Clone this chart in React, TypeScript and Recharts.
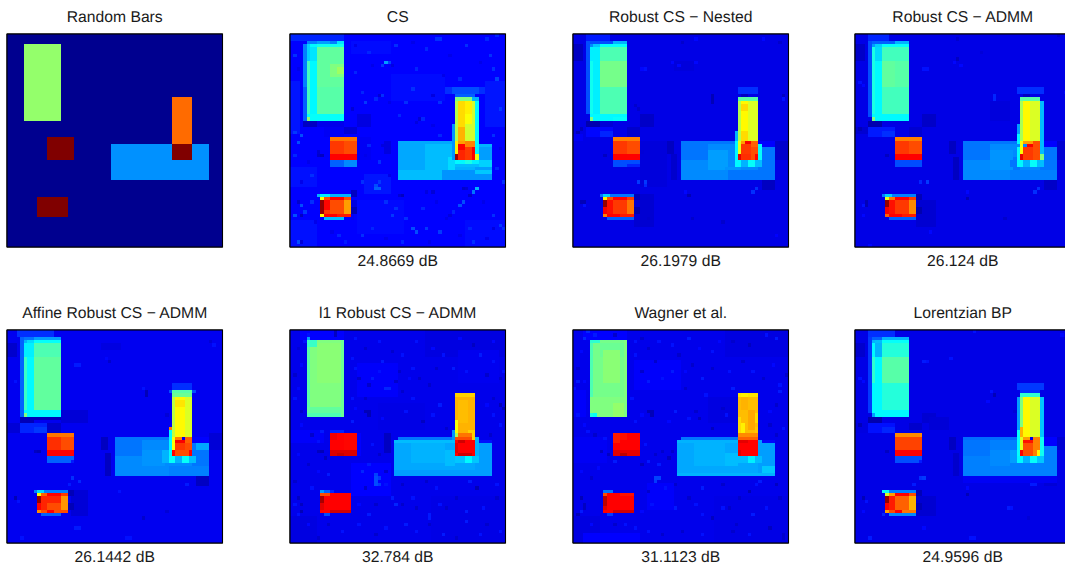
import React from "react";
import { ScatterChart, Scatter, XAxis, YAxis } from "recharts";

type B = number[]; // x0,y0,x1,y1,value on the 64x64 image grid
type S = number[]; // col,row,value

const titles = ["Random Bars", "CS", "Robust CS − Nested", "Robust CS − ADMM", "Affine Robust CS − ADMM", "l1 Robust CS − ADMM", "Wagner et al.", "Lorentzian BP"];
const snr = ["", "24.8669 dB", "26.1979 dB", "26.124 dB", "26.1442 dB", "32.784 dB", "31.1123 dB", "24.9596 dB"];

const truthBlocks: B[] = [
  [0,0,64,64,0],[5,3,16,26,0.52],[31,33,60,44,0.267],[49,19,55,33,0.77],[12,31,20,38,1],[9,49,18,55,1],[49,33,55,38,1],
];
const truthSpecks: S[] = [];

const csBlocks: B[] = [
  [0,0,64,64,0.125],[0,0,16,2,0.16],[0,14,3,30,0.145],[32,4,42,8,0.11],[0,40,8,46,0.14],[0,56,8,64,0.14],[22,42,30,48,0.145],[58,14,64,28,0.145],[46,16,58,18,0.17],[18,2,30,6,0.135],[30,12,46,20,0.135],[20,50,34,60,0.133],[36,52,50,64,0.118],[52,56,64,64,0.135],[16,22,30,30,0.118],
  [4,3,5,16,0.25],[4,16,5,26,0.22],[5,2,16,3,0.25],[8,2,12,3,0.28],[14,2,16,3,0.35],
  [5,3,8,26,0.37],[6,4,8,8,0.35],[5,8,6,26,0.44],[5,3,6,8,0.33],[8,3,16,4,0.39],[8,4,16,26,0.47],[12,9,16,13,0.5],[14,10,16,12,0.53],[8,16,16,24,0.46],[5,24,16,26,0.38],[5,25,6,26,0.52],
  [4,26,8,28,0.05],[8,26,16,28,0.09],[10,28,16,31,0.1],[20,24,24,28,0.08],[16,28,20,30,0.07],
  [12,31,20,32,0.76],[12,32,20,36,0.82],[16,32,20,36,0.8],[12,36,20,38,0.875],[12,38,20,40,0.22],[16,38,20,40,0.26],[8,36,10,37,0.06],[20,31,24,38,0.1],[28,32,30,36,0.08],
  [32,32,49,33,0.29],[32,33,60,44,0.3],[32,33,40,41,0.29],[40,33,48,41,0.31],[47,37,49,41,0.34],[32,41,45,44,0.31],[45,41,60,44,0.27],[55,34,60,41,0.28],[55,41,60,42,0.32],
  [48,16,56,18,0.2],[49,18,55,19,0.22],[49,19,55,20,0.5],[54,19,56,20,0.3],[49,20,50,32,0.55],[50,20,52,32,0.66],[52,20,54,32,0.62],[54,20,55,32,0.58],[55,20,56,38,0.37],[52,20,54,24,0.64],[50,28,52,32,0.7],[52,27,54,32,0.58],[48,27,49,38,0.27],
  [49,32,50,37,0.64],[50,32,52,33,0.72],[50,33,52,35,0.875],[52,32,55,34,0.75],[50,35,52,38,0.84],[52,34,54,38,0.82],[54,34,55,36,0.88],[54,36,55,38,0.875],[49,36,50,38,0.97],[55,36,56,38,0.6],
  [49,38,52,39,0.37],[52,38,54,39,0.4],[54,38,56,39,0.36],[49,39,56,40,0.31],[56,38,60,40,0.33],
  [8,48,18,49,0.3],[9,48,12,49,0.36],[18,47,20,49,0.05],[9,49,18,55,0.82],[9,49,10,50,0.62],[10,49,18,50,0.8],[12,49,16,50,0.875],[9,50,10,54,0.98],[10,50,12,53,0.87],[12,50,16,54,0.8],[16,50,18,54,0.72],[9,54,10,55,0.62],[10,54,14,55,0.875],[14,54,18,55,0.85],[10,55,16,56,0.31],[18,52,20,54,0.04],[18,50,20,52,0.08],[18,54,19,56,0.1],
];
const csSpecks: S[] = [
  [28,8,0.28],[29,8,0.19],[27,9,0.18],[30,9,0.08],[21,17,0.16],[26,18,0.07],[27,18,0.17],[25,19,0.16],[29,20,0.09],[18,22,0.07],[22,20,0.18],[38,25,0.07],[37,26,0.08],[39,25,0.16],[3,30,0.2],[1,29,0.18],[2,32,0.2],[8,35,0.07],[9,36,0.05],[23,33,0.16],[27,33,0.08],[55,46,0.3],[54,47,0.24],[53,48,0.06],[51,46,0.06],[52,46,0.07],[33,48,0.05],[32,48,0.07],[51,50,0.2],[50,51,0.2],[2,50,0.06],[3,51,0.2],[3,54,0.05],[4,53,0.18],[1,54,0.2],[25,46,0.22],[26,46,0.22],[25,45,0.2],[26,44,0.18],[36,58,0.2],[37,59,0.2],[40,58,0.18],[44,59,0.18],[60,58,0.08],[62,57,0.18],[63,58,0.17],[31,52,0.17],[30,54,0.18],[34,55,0.17],[40,47,0.08],[42,47,0.07],[60,10,0.17],[61,13,0.19],[62,22,0.18],[34,20,0.17],[36,16,0.17],[42,18,0.08],[44,20,0.17],[21,60,0.17],[14,60,0.16],[16,62,0.15],[43,1,0.17],[44,1,0.17],[58,1,0.16],[61,0,0.16],[3,62,0.07],[2,62,0.2],[24,58,0.16],[50,60,0.09],[46,55,0.09],[47,54,0.08],[53,58,0.16],
  [19,3,0.09],[23,5,0.16],[31,3,0.17],[36,2,0.09],[40,4,0.16],[47,6,0.09],[52,3,0.17],[56,8,0.09],[19,11,0.16],[24,9,0.09],[37,10,0.16],[45,12,0.09],[50,13,0.16],[59,6,0.17],[1,6,0.17],[2,10,0.09],[32,24,0.16],[42,27,0.09],[44,30,0.16],[60,30,0.17],[62,34,0.09],[61,40,0.16],[63,44,0.17],[1,36,0.16],[5,38,0.09],[6,42,0.17],[3,44,0.09],[22,36,0.09],[26,38,0.17],[29,42,0.09],[21,44,0.17],[6,50,0.17],[7,56,0.09],[12,59,0.09],[28,50,0.17],[39,52,0.16],[43,50,0.09],[48,53,0.16],[57,50,0.09],[60,54,0.17],[28,61,0.09],[33,62,0.16],[41,62,0.09],[54,62,0.17],[58,61,0.09],
];

const nestedBlocks: B[] = [
  [0,0,64,64,0.085],[4,0,11,2,0.15],[0,3,3,8,0.05],[20,24,24,28,0.055],[16,28,20,31,0.06],[20,32,28,46,0.075],[18,48,24,58,0.065],[56,44,60,47,0.05],[60,32,64,38,0.06],[28,32,30,36,0.05],[29,36,31,44,0.06],[0,30,3,32,0.1],[30,8,36,11,0.075],
  [4,2,5,24,0.2],[5,2,12,3,0.2],[12,2,16,3,0.3],[5,3,6,5,0.26],[6,3,8,4,0.32],[8,3,16,4,0.38],
  [5,4,8,24,0.36],[5,8,6,24,0.39],[8,4,16,8,0.45],[8,8,16,16,0.49],[8,16,16,24,0.45],[5,24,16,26,0.37],[5,25,6,26,0.5],[12,25,16,26,0.38],
  [4,26,8,28,0.03],[8,26,12,28,0.07],[4,28,12,31,0.13],[8,29,12,31,0.16],
  [12,31,20,32,0.75],[12,32,20,36,0.82],[16,32,20,36,0.8],[12,36,20,38,0.875],[12,38,20,40,0.2],[16,39,20,40,0.16],
  [32,32,48,33,0.24],[32,33,60,44,0.26],[32,33,40,38,0.24],[40,35,46,41,0.28],[46,36,48,40,0.26],[55,34,60,41,0.24],[46,41,60,44,0.24],[55,32,60,34,0.12],
  [49,16,55,18,0.17],[50,18,52,19,0.05],[49,19,55,20,0.46],[49,20,50,32,0.55],[50,20,52,32,0.63],[52,20,55,32,0.59],[50,21,52,23,0.66],[50,29,52,32,0.66],[48,29,49,32,0.3],[48,32,49,38,0.37],
  [49,32,50,36,0.6],[50,32,51,33,0.72],[51,32,53,33,0.88],[53,32,55,34,0.78],[50,33,53,36,0.82],[50,36,53,38,0.83],[53,34,55,38,0.8],[49,36,50,38,0.9],[54,36,55,38,0.875],[55,33,56,38,0.38],
  [48,38,50,40,0.37],[50,38,52,40,0.3],[52,38,54,40,0.38],[54,38,56,40,0.31],[45,40,50,41,0.27],
  [8,48,18,49,0.24],[9,48,11,49,0.33],[18,48,20,50,0.04],[9,49,18,55,0.82],[9,49,10,50,0.64],[10,49,12,50,0.8],[12,49,16,50,0.875],[9,50,10,52,0.98],[9,52,10,54,0.88],[10,50,12,54,0.86],[12,50,16,54,0.82],[16,50,18,54,0.76],[9,54,10,55,0.75],[10,54,14,55,0.875],[14,54,18,55,0.85],[10,55,18,56,0.22],[18,52,20,54,0.03],
];
const nestedSpecks: S[] = [
  [29,8,0.13],[20,10,0.13],[21,10,0.14],[31,9,0.13],[19,22,0.06],[18,21,0.06],[41,18,0.04],[41,19,0.04],[41,20,0.04],[62,18,0.05],[62,19,0.14],[2,28,0.05],[1,29,0.04],[20,35,0.07],[9,36,0.05],[3,50,0.04],[2,50,0.04],[3,51,0.14],[21,44,0.18],[21,45,0.16],[19,44,0.18],[33,47,0.13],[34,48,0.04],[54,46,0.17],[53,47,0.17],[36,8,0.13],[61,2,0.06],[56,1,0.13],[32,2,0.06],[36,1,0.13],[60,60,0.12],[44,56,0.06],[22,55,0.06],[35,55,0.06],
];

const admmBlocks: B[] = [
  [0,0,64,64,0.085],[4,0,10,2,0.16],[0,3,3,8,0.055],[20,24,24,28,0.055],[16,28,20,31,0.065],[18,50,24,58,0.065],[56,44,60,47,0.055],[60,32,64,38,0.065],[0,28,4,30,0.065],[40,20,46,26,0.075],[28,32,30,36,0.05],[29,37,31,44,0.05],
  [4,2,5,25,0.2],[5,2,12,3,0.22],[12,2,16,3,0.3],[5,3,6,6,0.28],[6,3,8,4,0.33],[8,3,16,4,0.38],
  [5,4,6,26,0.4],[6,4,8,8,0.34],[6,8,8,25,0.37],[8,4,16,8,0.44],[8,8,12,16,0.47],[12,8,16,16,0.46],[8,16,16,24,0.44],[5,24,16,26,0.37],[5,25,6,26,0.5],
  [4,26,8,28,0.03],[8,26,16,27,0.08],[4,28,12,31,0.15],[8,29,12,31,0.17],
  [12,31,20,32,0.75],[12,32,20,36,0.82],[16,32,20,36,0.8],[12,36,20,38,0.875],[12,38,20,40,0.2],
  [32,32,48,33,0.24],[32,33,60,44,0.26],[32,33,40,38,0.24],[40,35,47,41,0.27],[47,37,49,41,0.24],[55,34,60,41,0.24],[46,41,60,44,0.25],[55,32,60,34,0.12],
  [48,16,56,18,0.17],[50,18,52,19,0.05],[49,19,55,20,0.46],[49,20,50,32,0.54],[50,20,52,32,0.63],[52,20,55,32,0.59],[55,20,56,38,0.31],[48,27,49,30,0.28],[48,30,49,33,0.37],
  [49,32,50,38,0.62],[50,32,53,33,0.72],[51,33,53,34,0.88],[50,34,53,38,0.82],[53,32,55,38,0.8],[49,36,50,38,0.9],[55,36,56,38,0.5],[48,34,49,38,0.38],
  [48,38,50,40,0.37],[50,38,52,40,0.3],[52,38,54,40,0.38],[54,38,56,40,0.31],[46,38,48,40,0.24],
  [8,48,18,49,0.25],[9,48,11,49,0.33],[18,48,20,50,0.04],[9,49,18,55,0.82],[9,49,10,50,0.6],[10,49,12,50,0.76],[12,49,16,50,0.875],[9,50,10,52,0.98],[9,52,10,54,0.88],[10,50,12,54,0.86],[12,50,16,54,0.82],[16,50,18,54,0.74],[9,54,10,55,0.78],[10,54,14,55,0.875],[14,54,18,55,0.85],[10,55,18,56,0.22],[18,52,20,54,0.03],
];
const admmSpecks: S[] = [
  [29,8,0.13],[20,10,0.14],[21,10,0.14],[31,9,0.13],[30,7,0.05],[41,18,0.16],[41,19,0.16],[62,17,0.13],[1,14,0.14],[2,15,0.13],[1,28,0.04],[9,36,0.05],[3,50,0.04],[2,51,0.14],[3,51,0.04],[2,54,0.13],[19,44,0.16],[21,44,0.18],[33,47,0.13],[33,49,0.04],[54,46,0.17],[53,47,0.17],[30,1,0.06],[60,0,0.06],[4,63,0.13],[22,59,0.13],[37,5,0.07],[44,55,0.06],
];

const affineBlocks: B[] = [
  [0,0,64,64,0.095],[3,0,14,2,0.17],[0,4,3,8,0.06],[16,24,24,28,0.07],[0,28,4,31,0.07],[19,48,24,56,0.07],[56,44,60,47,0.05],[60,31,64,36,0.07],[28,32,30,36,0.05],[29,37,31,44,0.05],[28,4,34,6,0.08],
  [4,2,5,26,0.22],[5,2,8,3,0.24],[8,2,16,3,0.28],[5,3,6,8,0.3],[6,3,8,4,0.34],[8,3,16,4,0.38],
  [5,4,8,8,0.36],[6,8,8,24,0.37],[5,8,6,26,0.43],[8,4,16,8,0.45],[8,8,16,24,0.47],[5,24,16,26,0.37],[5,25,6,26,0.5],
  [4,26,16,27,0.04],[4,27,8,28,0.04],[4,28,12,31,0.16],[8,29,12,31,0.18],[12,28,16,31,0.06],
  [12,31,20,32,0.76],[12,32,20,36,0.83],[16,32,20,36,0.8],[12,36,20,38,0.875],[12,38,20,40,0.22],[19,39,20,40,0.15],
  [32,32,48,33,0.24],[32,33,60,44,0.26],[32,33,40,38,0.24],[40,36,47,41,0.27],[46,36,49,40,0.3],[55,34,60,41,0.24],[56,34,60,36,0.29],[48,41,60,44,0.25],[55,32,60,34,0.12],
  [49,16,55,18,0.17],[48,18,56,19,0.2],[49,18,55,19,0.46],[49,19,55,20,0.48],[49,20,50,32,0.56],[50,20,53,32,0.63],[53,20,55,32,0.59],[50,21,53,23,0.65],[48,29,49,30,0.75],[48,28,49,29,0.1],[48,30,49,38,0.37],
  [49,32,50,37,0.62],[50,32,52,33,0.75],[50,33,53,34,0.88],[53,32,55,34,0.78],[50,34,53,36,0.82],[50,36,53,38,0.8],[53,34,55,38,0.8],[49,36,50,38,0.875],[54,36,55,38,0.875],
  [48,38,50,40,0.38],[50,38,52,40,0.3],[52,38,54,40,0.38],[54,38,56,40,0.31],
  [8,48,18,49,0.25],[9,48,11,49,0.34],[18,48,20,50,0.04],[9,49,18,55,0.82],[9,49,10,50,0.62],[10,49,12,50,0.78],[12,49,16,50,0.875],[9,50,10,52,0.98],[9,52,10,54,0.875],[10,50,16,54,0.84],[12,52,16,54,0.8],[16,50,18,54,0.73],[9,54,10,55,0.74],[10,54,12,55,0.8],[12,54,14,55,0.875],[14,54,18,55,0.8],[10,55,16,56,0.22],[18,52,20,54,0.04],
];
const affineSpecks: S[] = [
  [29,8,0.13],[30,9,0.06],[20,10,0.15],[21,10,0.15],[60,3,0.07],[61,4,0.14],[41,18,0.04],[41,19,0.04],[40,17,0.14],[2,15,0.14],[47,25,0.07],[8,36,0.05],[9,36,0.04],[2,50,0.04],[3,51,0.14],[19,44,0.17],[21,45,0.16],[18,46,0.15],[33,48,0.14],[53,46,0.15],[40,56,0.06],[47,54,0.07],[20,59,0.15],[21,59,0.15],[4,62,0.14],[35,62,0.14],[36,62,0.14],
];

const l1Blocks: B[] = [
  [0,0,64,64,0.09],[3,0,16,3,0.11],[0,30,10,34,0.105],[20,10,32,20,0.105],[40,0,64,8,0.08],[42,50,64,64,0.085],[22,56,40,64,0.09],[0,56,8,64,0.08],[26,22,40,30,0.085],[50,6,62,16,0.095],[18,40,30,50,0.11],
  [5,2,6,3,0.28],[5,3,16,26,0.5],[5,3,8,5,0.43],[5,5,6,26,0.46],[8,4,15,8,0.51],[8,8,16,16,0.51],[5,23,16,25,0.47],[5,25,16,26,0.45],[15,3,16,26,0.48],[28,31,30,37,0.05],
  [12,30,16,31,0.16],[12,31,20,38,0.875],[12,31,14,33,0.89],[12,36,20,38,0.91],[14,37,16,38,0.93],[16,31,20,36,0.87],[20,31,21,38,0.12],
  [32,32,49,33,0.24],[31,33,60,44,0.29],[31,33,49,34,0.31],[36,34,46,40,0.3],[46,36,49,41,0.31],[55,34,60,43,0.28],[55,33,60,34,0.14],[31,42,60,44,0.28],
  [49,19,55,33,0.7],[49,19,55,20,0.67],[50,21,53,28,0.69],[49,27,50,32,0.62],[49,31,50,33,0.54],[53,30,55,33,0.67],[48,30,49,33,0.27],
  [50,31,54,32,0.76],[49,32,54,33,0.8],[49,33,55,38,0.875],[50,33,52,34,0.92],[49,34,50,37,0.9],[50,37,54,38,0.92],[55,32,56,38,0.3],[49,38,56,40,0.32],[52,38,54,40,0.37],
  [9,48,10,49,0.28],[10,48,12,49,0.22],[9,49,18,55,0.875],[9,49,12,50,0.8],[9,50,10,52,0.96],[9,52,10,54,0.9],[12,54,18,55,0.92],[10,55,12,56,0.2],[12,48,13,49,0.16],
];
const l1Specks: S[] = [
  [4,3,0.14],[5,1,0.14],[13,1,0.05],[13,0,0.05],[2,5,0.07],[18,8,0.14],[19,11,0.14],[24,14,0.15],[27,9,0.15],[33,7,0.14],[32,12,0.06],[36,11,0.14],[38,14,0.06],[45,7,0.14],[48,11,0.15],[56,7,0.15],[58,13,0.06],[63,12,0.14],[62,14,0.06],[1,20,0.14],[3,24,0.06],[18,20,0.14],[22,20,0.06],[23,16,0.06],[28,17,0.16],[29,17,0.16],[33,18,0.06],[36,20,0.14],[41,16,0.06],[44,22,0.15],[60,20,0.06],[62,22,0.04],[63,23,0.04],[60,25,0.14],[22,24,0.04],[23,24,0.04],[23,25,0.04],[18,27,0.15],[9,30,0.15],[8,33,0.14],[9,36,0.04],[8,36,0.05],[10,38,0.05],[23,40,0.15],[25,43,0.19],[25,44,0.2],[25,45,0.2],[25,46,0.2],[26,44,0.18],[26,46,0.18],[21,42,0.16],[28,42,0.06],[33,46,0.06],[40,45,0.06],[43,47,0.14],[53,45,0.15],[55,47,0.04],[61,46,0.14],[30,50,0.15],[31,52,0.16],[37,53,0.06],[41,55,0.15],[41,56,0.15],[46,53,0.06],[52,54,0.15],[2,50,0.05],[3,52,0.05],[3,54,0.04],[2,55,0.14],[1,52,0.14],[23,55,0.15],[34,58,0.15],[41,58,0.06],[52,57,0.15],[58,58,0.06],[62,60,0.14],[15,60,0.14],[8,62,0.06],[45,61,0.15],[28,59,0.14],[11,43,0.15],[6,47,0.14],
  [19,2,0.14],[22,5,0.06],[26,3,0.14],[30,6,0.06],[37,3,0.14],[42,5,0.13],[50,2,0.13],[54,4,0.05],[60,3,0.13],[20,14,0.06],[26,12,0.14],[31,15,0.06],[35,14,0.13],[43,11,0.06],[52,12,0.14],[60,9,0.14],[3,10,0.13],[1,13,0.06],[2,17,0.13],[19,23,0.13],[27,26,0.13],[34,24,0.14],[39,27,0.05],[42,25,0.14],[46,29,0.06],[58,22,0.13],[62,28,0.14],[59,31,0.06],[3,28,0.13],[6,31,0.06],[2,37,0.13],[5,40,0.06],[8,42,0.13],[1,45,0.06],[24,34,0.14],[26,37,0.06],[22,47,0.06],[28,46,0.14],[20,52,0.13],[25,52,0.06],[33,52,0.06],[36,50,0.14],[44,52,0.14],[49,50,0.06],[57,53,0.14],[61,50,0.06],[5,58,0.13],[11,58,0.06],[20,58,0.14],[25,61,0.06],[37,60,0.14],[49,62,0.06],[56,61,0.14],
];

const wagnerBlocks: B[] = [
  [0,0,64,64,0.09],[3,0,16,3,0.11],[0,18,4,26,0.105],[0,32,10,40,0.1],[18,9,32,18,0.105],[45,0,64,8,0.08],[42,50,64,64,0.085],[22,46,30,54,0.105],[0,56,8,64,0.08],[3,61,20,64,0.12],[40,20,50,28,0.08],
  [5,3,16,26,0.49],[5,3,8,4,0.42],[8,4,16,8,0.48],[9,6,14,16,0.51],[5,4,6,26,0.45],[9,16,14,22,0.49],[5,20,16,26,0.5],[12,22,16,26,0.52],[5,25,6,26,0.4],[6,25,7,26,0.38],[15,3,16,26,0.5],
  [12,31,20,38,0.875],[12,31,14,34,0.85],[14,31,16,33,0.86],[12,36,20,38,0.9],[14,37,16,38,0.94],
  [32,32,49,33,0.24],[31,33,60,44,0.29],[31,33,49,34,0.3],[36,34,45,41,0.3],[45,37,49,41,0.31],[55,34,60,43,0.28],[55,33,60,34,0.13],[31,43,60,44,0.3],[56,41,60,43,0.32],
  [49,19,55,20,0.65],[50,19,52,20,0.64],[49,20,55,33,0.69],[50,20,52,24,0.7],[52,24,54,30,0.71],[54,25,55,28,0.66],[49,26,50,32,0.66],[50,28,51,31,0.64],[54,29,55,33,0.68],
  [49,31,55,32,0.74],[49,32,55,33,0.78],[49,33,55,38,0.875],[49,33,52,34,0.9],[49,36,50,38,0.9],[55,33,56,38,0.28],[49,38,56,40,0.31],[52,38,54,40,0.36],
  [9,48,12,49,0.24],[9,49,18,55,0.875],[9,49,10,50,0.8],[9,50,10,53,0.94],[9,53,10,54,0.9],[12,54,18,55,0.92],[10,55,12,56,0.18],[14,49,18,50,0.86],
];
const wagnerSpecks: S[] = [
  [4,0,0.16],[6,1,0.15],[1,15,0.15],[0,17,0.14],[3,2,0.16],[12,1,0.06],[20,2,0.06],[25,3,0.14],[34,2,0.15],[41,6,0.14],[47,3,0.06],[57,1,0.14],[60,2,0.15],[18,7,0.14],[24,9,0.06],[29,12,0.15],[35,10,0.06],[38,14,0.15],[46,12,0.14],[50,9,0.06],[56,14,0.06],[61,16,0.14],[63,13,0.06],[17,20,0.14],[22,15,0.15],[33,17,0.06],[39,19,0.14],[44,23,0.06],[47,17,0.15],[60,22,0.06],[61,18,0.15],[1,25,0.14],[22,24,0.04],[23,24,0.04],[23,25,0.04],[18,27,0.14],[30,24,0.15],[36,24,0.06],[37,26,0.05],[58,28,0.06],[62,29,0.14],[4,30,0.14],[9,32,0.14],[8,36,0.05],[10,37,0.05],[12,39,0.15],[20,40,0.05],[22,39,0.15],[26,36,0.06],[28,38,0.05],[29,36,0.06],[25,40,0.15],[24,44,0.19],[25,44,0.19],[24,45,0.18],[30,46,0.06],[38,47,0.15],[44,46,0.06],[55,45,0.15],[54,46,0.14],[60,46,0.05],[52,48,0.04],[34,50,0.06],[30,53,0.15],[38,55,0.14],[41,56,0.05],[46,53,0.06],[53,55,0.15],[2,50,0.04],[3,52,0.05],[3,53,0.05],[2,54,0.15],[1,55,0.04],[23,52,0.14],[15,58,0.14],[12,58,0.06],[32,60,0.06],[47,60,0.06],[48,58,0.06],[62,61,0.06],[62,62,0.06],[18,59,0.14],
  [18,3,0.14],[22,5,0.06],[29,4,0.14],[31,7,0.06],[37,5,0.13],[43,3,0.13],[52,4,0.05],[20,12,0.06],[26,14,0.14],[33,12,0.13],[41,11,0.06],[53,12,0.14],[59,10,0.13],[2,6,0.13],[1,11,0.06],[3,15,0.13],[20,25,0.13],[28,27,0.13],[34,26,0.14],[41,29,0.05],[45,25,0.14],[58,24,0.13],[60,31,0.06],[3,28,0.13],[6,31,0.06],[2,42,0.13],[5,44,0.06],[7,41,0.13],[21,34,0.14],[24,37,0.06],[22,48,0.06],[27,47,0.14],[20,54,0.13],[36,52,0.14],[44,53,0.14],[49,50,0.06],[57,53,0.14],[61,50,0.06],[5,58,0.13],[22,60,0.14],[26,61,0.06],[38,61,0.14],[52,61,0.14],[58,59,0.05],
];

const lorentzBlocks: B[] = [
  [0,0,64,64,0.085],[4,0,12,2,0.17],[0,4,3,8,0.06],[20,25,24,28,0.065],[16,28,20,30,0.06],[0,28,4,31,0.08],[18,50,24,56,0.065],[56,44,60,47,0.07],[60,32,64,36,0.065],[28,32,30,36,0.05],[29,37,31,44,0.06],[32,44,60,46,0.1],[22,26,28,30,0.07],
  [4,2,5,25,0.18],[5,2,8,3,0.22],[8,2,16,3,0.3],[5,3,6,8,0.3],[6,3,8,4,0.31],[8,3,16,4,0.38],
  [5,4,6,26,0.37],[6,4,8,8,0.3],[6,8,8,24,0.37],[5,8,6,16,0.42],[8,4,16,8,0.41],[8,8,16,16,0.46],[8,16,16,24,0.41],[6,24,16,26,0.37],[5,25,6,26,0.28],
  [4,26,8,28,0.03],[8,26,16,27,0.08],[4,28,12,31,0.14],[8,29,12,31,0.16],
  [12,31,20,32,0.74],[12,32,20,36,0.81],[12,36,20,38,0.875],[12,38,20,40,0.2],[19,39,20,40,0.15],
  [32,32,48,33,0.23],[32,33,60,44,0.25],[32,33,40,38,0.24],[40,36,46,41,0.26],[46,36,49,40,0.28],[55,35,60,41,0.25],[56,34,60,35,0.14],[46,41,60,44,0.25],[55,32,60,35,0.12],
  [48,16,56,18,0.18],[50,18,52,19,0.06],[49,18,55,19,0.17],[49,19,55,20,0.42],[49,20,50,32,0.5],[50,20,52,32,0.63],[52,20,55,32,0.59],[55,20,56,32,0.32],[48,20,49,30,0.28],[48,30,49,38,0.38],
  [49,29,50,32,0.7],[49,32,50,37,0.6],[50,32,52,33,0.72],[50,33,53,34,0.86],[53,32,55,38,0.75],[50,34,53,38,0.8],[49,36,50,38,0.875],[54,36,55,38,0.63],[55,32,56,38,0.39],
  [48,38,50,40,0.37],[50,38,52,40,0.3],[52,38,54,40,0.38],[54,38,56,40,0.32],
  [8,48,18,49,0.25],[8,48,10,49,0.38],[18,48,20,50,0.04],[9,49,18,55,0.8],[9,49,10,50,0.58],[10,49,12,50,0.72],[12,49,16,50,0.875],[9,50,10,52,0.98],[9,52,10,54,0.875],[10,50,12,54,0.85],[12,50,16,54,0.78],[16,50,18,54,0.7],[9,54,10,55,0.72],[10,54,12,55,0.8],[12,54,14,55,0.875],[14,54,18,55,0.76],[8,55,9,56,0.16],[10,55,18,56,0.26],[18,52,20,54,0.04],
];
const lorentzSpecks: S[] = [
  [28,8,0.14],[20,9,0.15],[21,9,0.14],[62,2,0.06],[63,3,0.06],[61,1,0.13],[35,0,0.14],[41,19,0.04],[40,18,0.14],[39,21,0.13],[1,14,0.14],[2,15,0.13],[47,24,0.07],[1,28,0.04],[9,36,0.05],[2,50,0.04],[3,51,0.14],[2,54,0.13],[19,44,0.17],[20,44,0.18],[17,46,0.15],[33,47,0.13],[33,49,0.04],[53,46,0.15],[52,46,0.15],[45,53,0.15],[46,53,0.14],[4,62,0.15],[20,59,0.13],[34,62,0.14],[35,62,0.14],[51,56,0.07],
];

const panelBlocks = [truthBlocks, csBlocks, nestedBlocks, admmBlocks, affineBlocks, l1Blocks, wagnerBlocks, lorentzBlocks];
const panelSpecks = [truthSpecks, csSpecks, nestedSpecks, admmSpecks, affineSpecks, l1Specks, wagnerSpecks, lorentzSpecks];

const clamp = (n: number) => Math.max(0, Math.min(1, n));
const jet = (v: number) => {
  const r = clamp(Math.min(4 * v - 1.5, -4 * v + 4.5));
  const g = clamp(Math.min(4 * v - 0.5, -4 * v + 3.5));
  const b = clamp(Math.min(4 * v + 0.5625, -4 * v + 2.5));
  return `rgb(${Math.round(r * 255)},${Math.round(g * 255)},${Math.round(b * 255)})`;
};

const GRID = 64;
const PW = 215.5;
const PH = 213;
const ML = 30;
const MT = 34;
const CW = 280;
const CH = 275;
const lefts = [7.3, 290.3, 572.7, 855.3];
const tops = [34.3, 329.7];
const textStyle = { fontFamily: "'Liberation Sans', Arial, sans-serif", fontSize: 15.7, fill: "#1a1a1a", textRendering: "geometricPrecision" };

const tableFor = (i: number) => [
  ...panelBlocks[i].map(([x0, y0, x1, y1, v]) => ({ x: (x0 + x1) / 2, y: (y0 + y1) / 2, w: x1 - x0, h: y1 - y0, v })),
  ...panelSpecks[i].map(([c, r, v]) => ({ x: c + 0.5, y: r + 0.5, w: 1, h: 1, v })),
  { x: GRID / 2, y: GRID / 2, w: GRID, h: GRID, v: -1 },
];

const CellShape = (p: any) => {
  const { cx, cy, payload } = p;
  const w = (payload.w * PW) / GRID;
  const h = (payload.h * PH) / GRID;
  if (payload.v < 0) {
    return <rect x={cx - w / 2} y={cy - h / 2} width={w} height={h} fill="none" stroke="#000" strokeWidth={1.1} />;
  }
  return <rect x={cx - w / 2} y={cy - h / 2} width={w} height={h} fill={jet(payload.v)} shapeRendering="crispEdges" />;
};

const axisLine = { stroke: "#000", strokeWidth: 1 };

function Panel({ i }: { i: number }) {
  const left = lefts[i % 4];
  const top = tops[i < 4 ? 0 : 1];
  return (
    <div style={{ position: "absolute", left: left - ML, top: top - MT, width: CW, height: CH }}>
      <ScatterChart width={CW} height={CH} margin={{ left: ML - 1, top: MT - 1, right: CW - ML - PW - 1, bottom: CH - MT - PH - 1 }}>
        <Scatter xAxisId="b" yAxisId="l" data={tableFor(i)} shape={CellShape} isAnimationActive={false} />
        <XAxis xAxisId="b" type="number" dataKey="x" domain={[0, GRID]} height={1} tick={false} tickLine={false} axisLine={axisLine}
          label={{ value: snr[i], position: "bottom", offset: 7, style: textStyle }} />
        <XAxis xAxisId="t" orientation="top" type="number" dataKey="x" domain={[0, GRID]} height={1} tick={false} tickLine={false} axisLine={axisLine}
          label={{ value: titles[i], position: "top", offset: 11, style: textStyle }} />
        <YAxis yAxisId="l" type="number" dataKey="y" domain={[0, GRID]} reversed width={1} tick={false} tickLine={false} axisLine={axisLine} />
        <YAxis yAxisId="r" orientation="right" type="number" dataKey="y" domain={[0, GRID]} reversed width={1} tick={false} tickLine={false} axisLine={axisLine} />
      </ScatterChart>
    </div>
  );
}

export default function App() {
  return (
    <div style={{ position: "fixed", left: 0, top: 0, width: 1065, height: 565, overflow: "hidden", background: "#fff" }}>
      {titles.map((_, i) => <Panel key={i} i={i} />)}
    </div>
  );
}
